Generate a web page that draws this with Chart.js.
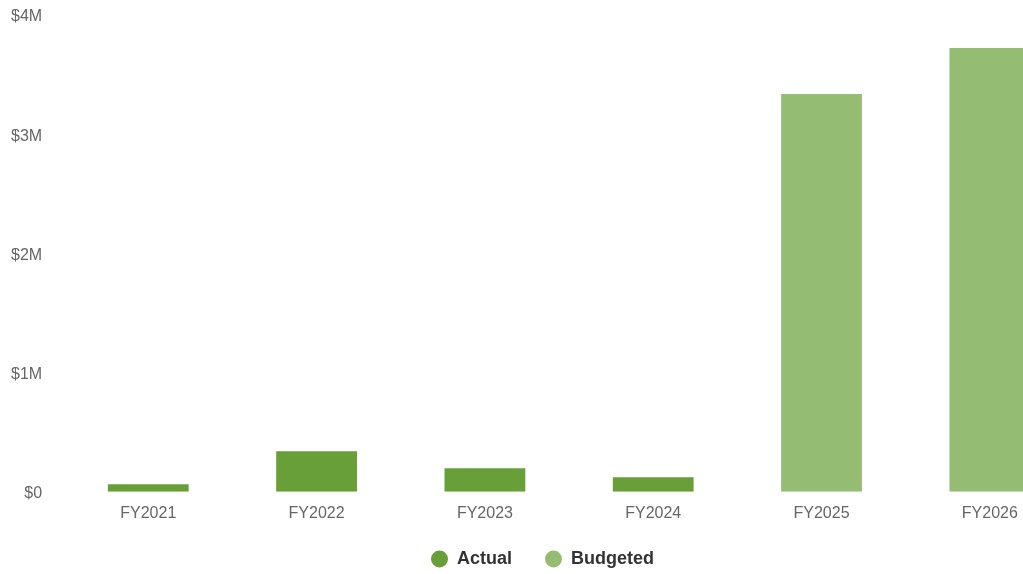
<!DOCTYPE html>
<html>
<head>
<meta charset="utf-8">
<script src="https://cdn.jsdelivr.net/npm/chart.js@4.4.1/dist/chart.umd.min.js"></script>
<style>
  html, body { margin: 0; padding: 0; background: #fff; overflow: hidden; }
  #wrap { position: relative; width: 1086px; height: 574px; }
</style>
</head>
<body>
<div id="wrap"><canvas id="c"></canvas></div>
<script>
const categories = ["FY2021", "FY2022", "FY2023", "FY2024", "FY2025", "FY2026"];
const actualValues = [63000, 340000, 197000, 122000, null, null];
const budgetedValues = [null, null, null, null, 3337000, 3724000];
const yTickValues = [0, 1000000, 2000000, 3000000, 4000000];

Chart.defaults.font.family = "'Liberation Sans', Arial, Helvetica, sans-serif";

const legendShift = {
  id: 'legendShift',
  afterLayout(chart) {
    if (chart.legend) { chart.legend.top -= 4; chart.legend.bottom -= 4; }
  }
};

new Chart(document.getElementById('c'), {
  type: 'bar',
  data: {
    labels: categories,
    datasets: [
      { label: 'Actual', data: actualValues, backgroundColor: 'rgb(104,159,56)', grouped: false,
        categoryPercentage: 0.6, barPercentage: 0.8 },
      { label: 'Budgeted', data: budgetedValues, backgroundColor: 'rgba(104,159,56,0.7)', grouped: false,
        categoryPercentage: 0.6, barPercentage: 0.8 }
    ]
  },
  plugins: [legendShift],
  options: {
    responsive: true,
    maintainAspectRatio: false,
    animation: false,
    layout: { padding: { left: 11, right: 12, top: 0, bottom: -8 } },
    scales: {
      x: {
        grid: { display: false, drawTicks: false },
        border: { display: false },
        ticks: { color: '#666', font: { size: 16 }, padding: 12 },
        afterFit: (scale) => { scale.height -= 14; }
      },
      y: {
        min: 0, max: 4000000,
        afterBuildTicks: (axis) => { axis.ticks = yTickValues.map(v => ({ value: v })); },
        grid: { display: false, drawTicks: false },
        border: { display: false },
        ticks: {
          color: '#666', font: { size: 16 }, padding: 22, labelOffset: 2,
          callback: (v) => v === 0 ? '$0' : '$' + (v / 1000000) + 'M'
        },
        afterFit: (scale) => { scale.width -= 22; scale.paddingTop = 15; }
      }
    },
    plugins: {
      legend: {
        position: 'bottom',
        labels: {
          usePointStyle: true, pointStyle: 'circle', boxHeight: 12, pointStyleWidth: 17,
          color: '#333', font: { size: 18, weight: 'bold' }, padding: 33
        }
      },
      tooltip: { enabled: false }
    }
  }
});
</script>
</body>
</html>
